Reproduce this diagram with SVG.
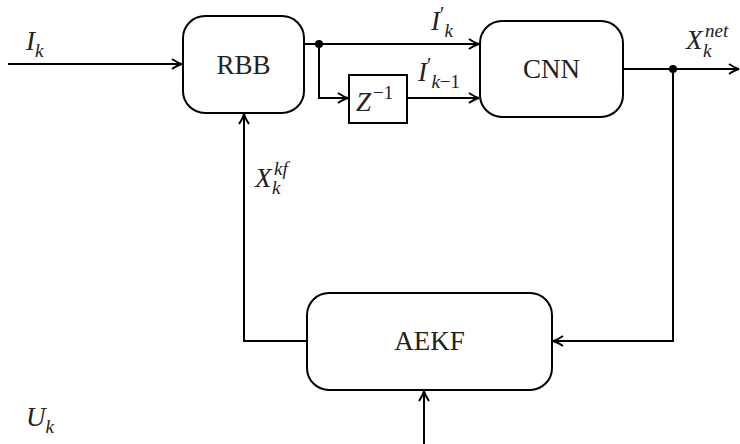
<svg xmlns="http://www.w3.org/2000/svg" width="740" height="444" viewBox="0 0 740 444">
<defs>
<style>
.box{fill:#fff;stroke:#000;stroke-width:2}
.ln{fill:none;stroke:#000;stroke-width:2}
.arr{marker-end:url(#ah)}
text{font-family:"Liberation Serif","Times New Roman","DejaVu Serif",serif;fill:#222}
.t{font-size:27px}
.m{font-style:italic;font-size:27px}
.s{font-style:italic;font-size:19px}
.u{font-style:normal;font-size:19px}
.p{font-style:normal;font-size:20px}
</style>
<marker id="ah" markerUnits="userSpaceOnUse" orient="auto" refX="0" refY="0" overflow="visible">
<path d="M-10,-5 Q-4,-1 0,0 Q-4,1 -10,5" fill="none" stroke="#000" stroke-width="2"/>
</marker>
</defs>
<rect width="740" height="444" fill="#fff"/>
<g id="connectors">
<path class="ln arr" d="M8,64 H182"/>
<path class="ln arr" d="M304,44 H479"/>
<path class="ln arr" d="M319,44 V98 H348"/>
<path class="ln arr" d="M407,98 H479"/>
<path class="ln arr" d="M623,69 H739"/>
<path class="ln arr" d="M673,69 V341 H553"/>
<path class="ln arr" d="M307,341 H244 V114"/>
<path class="ln arr" d="M424,444 V391"/>
<circle cx="319" cy="44" r="4"/>
<circle cx="673" cy="69" r="4"/>
</g>
<g id="RBB">
<rect class="box" x="183" y="16" width="121" height="97" rx="22"/>
<text class="t" x="243.5" y="74" text-anchor="middle">RBB</text>
</g>
<g id="CNN">
<rect class="box" x="480" y="21" width="143" height="96" rx="22"/>
<text class="t" x="551.5" y="78" text-anchor="middle">CNN</text>
</g>
<g id="Z">
<rect class="box" x="349" y="75" width="58" height="48"/>
<text class="m" x="356" y="111">Z<tspan class="u" dx="2" dy="-12">−1</tspan></text>
</g>
<g id="AEKF">
<rect class="box" x="307" y="293" width="245" height="97" rx="22"/>
<text class="t" x="429.5" y="350" text-anchor="middle">AEKF</text>
</g>
<g id="labels">
<text class="m" x="26" y="50">I<tspan class="s" dy="7">k</tspan></text>
<text class="m" x="431" y="30">I<tspan class="p" dy="-9">′</tspan><tspan class="s" dy="16">k</tspan></text>
<text class="m" x="418" y="81">I<tspan class="p" dy="-9">′</tspan><tspan class="s" dy="16">k</tspan><tspan class="u">−1</tspan></text>
<text class="m" x="686" y="49">X</text>
<text class="s" x="705" y="37">net</text>
<text class="s" x="703" y="57">k</text>
<text class="m" x="255" y="187">X</text>
<text class="s" x="274" y="175">kf</text>
<text class="s" x="272" y="194">k</text>
<text class="m" x="26" y="426">U<tspan class="s" dy="7">k</tspan></text>
</g>
</svg>
